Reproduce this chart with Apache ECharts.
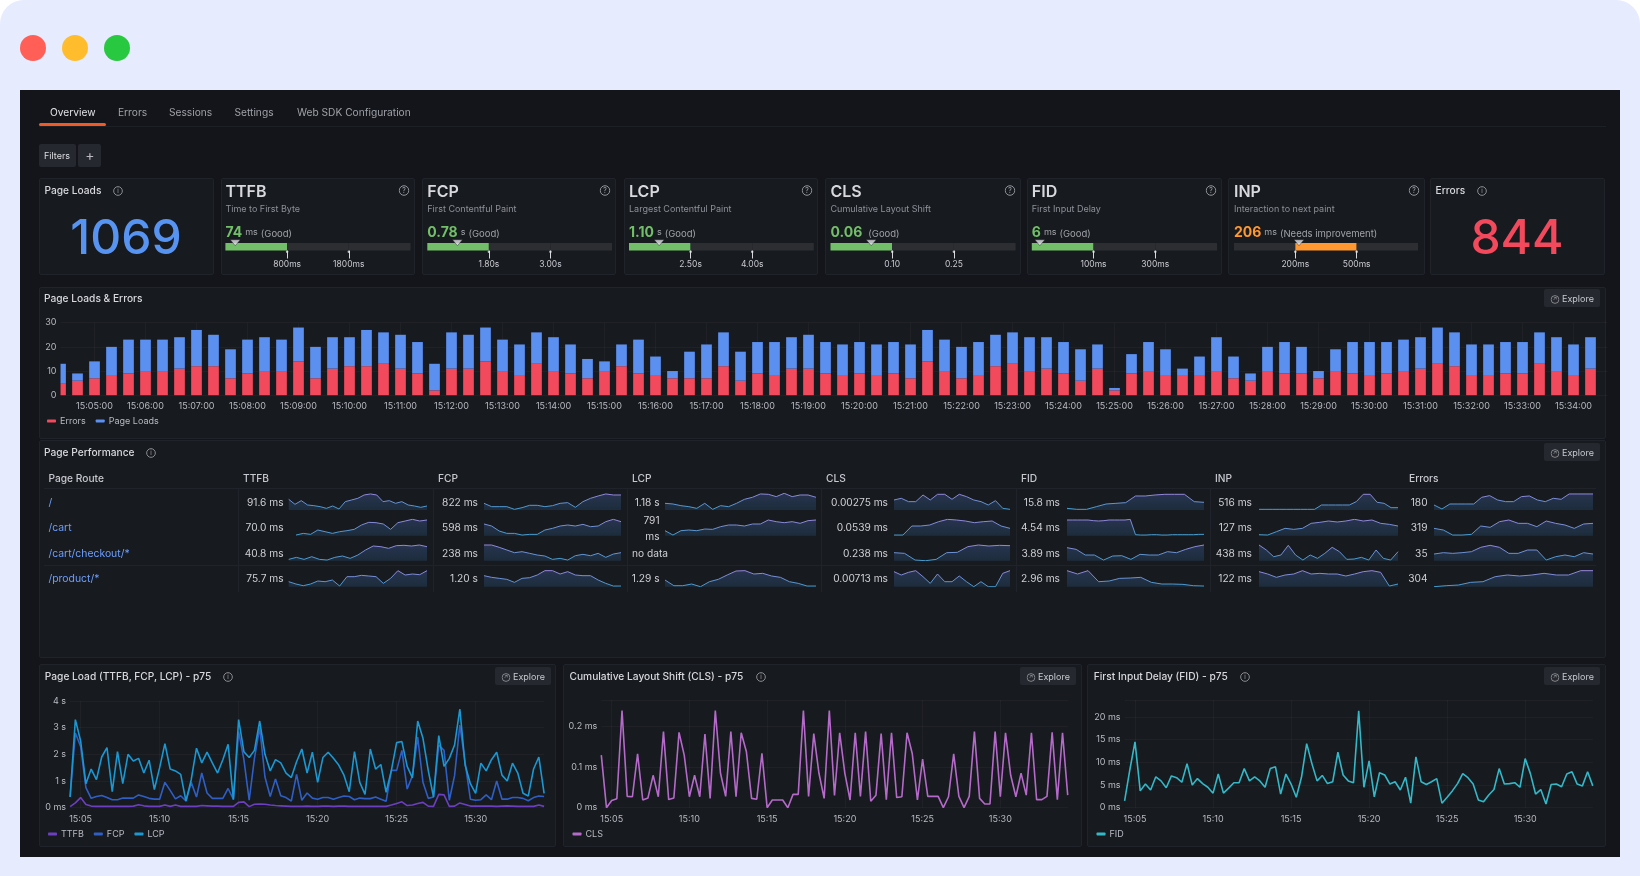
<!DOCTYPE html>
<html>
<head>
<meta charset="utf-8">
<title>Frontend Observability</title>
<script src="https://cdn.jsdelivr.net/npm/echarts@6/dist/echarts.min.js"></script>
<style>
html,body{margin:0;padding:0;background:#fff;font-family:Inter,"Noto Sans",sans-serif;}
#page{position:relative;width:1640px;height:876px;overflow:hidden;background:#e6ebfe;border-radius:24px 24px 0 0;}
#main{position:absolute;left:0;top:0;width:1640px;height:876px;}
.box{position:absolute;box-sizing:border-box;}
.panel{background:#171a1f;border:1px solid #20232a;border-radius:2px;}
.t{position:absolute;white-space:nowrap;transform:translateY(-50%);color:#ccccdc;font-size:10px;}
.t.r{transform:translate(-100%,-50%);}
.t.c{transform:translate(-50%,-50%);}
.title{font-size:10.2px;font-weight:500;color:#d8d9de;}
.sub{font-size:9px;color:#8e9098;}
.big{font-size:16px;font-weight:600;color:#d8d9de;}
.num{font-size:48px;font-weight:500;line-height:50px;}
.val{font-size:14px;font-weight:700;}
.unit{font-size:9px;color:#a0a2a8;font-weight:400;margin:0 3px;}
.rate{font-size:9.5px;color:#a0a2a8;font-weight:400;}
.tab{font-size:10.2px;color:#9fa1a8;}
.route{font-size:10.4px;color:#6e9fff;}
.head{font-size:10.2px;color:#c8c9d0;font-weight:500;}
.cell{font-size:10.2px;color:#cfd0d6;}
.btn{background:#25282e;border-radius:2px;}
.icon{position:absolute;transform:translate(-50%,-50%);}
</style>
</head>
<body>
<div id="page"><div id="main"></div></div>
<script>
// 时间轴
var startTime = new Date(2024, 0, 15, 15, 4, 20).getTime();
var stepMs = 20000;
var lineTickMinutes = [5,10,15,20,25,30];

// Page Loads & Errors
var errorsData = [
    5,6,7,8,9,10,10,11,12,12,
    7,9,10,10,14,7,11,12,12,13,
    11,9,2,11,11,14,10,8,13,10,
    9,7,10,12,9,8,7,7,7,12,
    6,9,8,11,11,9,8,9,8,9,
    7,14,10,7,8,12,13,10,11,9,
    6,11,2,9,10,8,8,8,10,7,
    6,10,9,9,7,10,9,8,9,10,
    11,13,12,8,8,9,9,13,10,8,
    11];
var pageLoadsData = [
    8,3,7,12,14,13,13,13,15,13,
    12,14,14,13,14,13,13,12,15,13,
    14,13,11,15,14,14,13,13,13,14,
    12,8,4,9,14,8,3,11,14,14,
    12,13,14,13,14,13,13,13,13,13,
    14,13,13,13,14,13,13,14,13,13,
    13,10,1,8,12,11,3,8,14,9,
    3,10,13,11,3,9,13,14,13,13,
    13,15,14,13,13,13,13,13,14,13,
    13];

// Page Load (TTFB, FCP, LCP) - p75，单位秒
var ttfbData = [
    .04,.18,.38,.12,.06,.05,.05,.05,.05,.05,
    .05,.05,.06,.11,.07,.05,.05,.05,.1,.05,
    .1,.05,.05,.05,.05,.08,.07,.06,.06,.05,
    .05,.05,.2,.22,.04,.13,.14,.13,.1,.08,
    .07,.06,.05,.05,.05,.06,.05,.05,.06,.06,
    .05,.06,.06,.05,.05,.05,.05,.05,.05,.05,
    .05,.1,.16,.22,.08,.1,.16,.2,.06,.05,
    .5,.48,.05,.06,.18,.12,.06,.06,.06,.06,
    .06,.05,.06,.07,.06,.05,.05,.05,.05,.1,
    .05];
var fcpData = [
    .4,2.8,2.3,.75,.35,.42,.46,.38,.3,.3,
    .36,.36,.36,.48,.42,.35,.32,.32,.95,.65,
    .33,.45,.25,.95,.4,1.3,.55,.35,.35,.35,
    .72,.32,2.85,1.8,.28,1.85,3.0,1.15,.42,1.08,
    .45,.38,.25,1.25,.28,.55,.36,.32,.38,.38,
    .32,.38,.44,.42,.3,.36,.34,.34,.4,.32,
    .24,1.4,1.4,2.15,.7,1.2,2.65,.95,.35,.4,
    2.35,2.15,.28,1.2,3.1,1.7,.32,.28,.3,.48,
    .3,1.0,.32,.32,.38,.38,.35,.26,.38,.44,
    .42];
var lcpData = [
    .4,3.3,2.5,.9,1.45,1.05,1.9,2.25,.6,2.1,
    .9,2.0,1.75,1.85,1.3,1.78,.68,1.5,2.4,1.45,
    1.38,1.25,.25,1.05,2.23,1.68,2.08,1.68,1.3,1.8,
    2.38,.3,3.3,2.1,1.88,2.15,3.25,2.0,1.38,1.8,
    1.68,1.3,1.13,1.72,2.2,1.3,2.08,.95,1.88,2.08,
    1.85,1.6,1.22,.6,2.1,.95,.5,2.2,1.45,1.62,
    .58,1.4,2.44,2.48,1.55,1.12,3.25,2.6,1.4,.4,
    2.7,1.55,1.85,2.35,3.7,1.6,.9,.54,1.67,1.38,
    1.8,2.08,1.22,1.0,1.67,1.3,.54,.44,1.45,1.9,
    .54];

// CLS - p75
var clsData = [
    .13,0,.018,.022,.24,.028,.027,.133,.019,.024,
    .08,.027,.188,.02,.024,.186,.13,.027,.08,.027,
    .182,.023,.24,.085,.028,.188,.027,.185,.138,.023,
    .021,.134,0,.019,.019,.019,0,.033,.033,.24,
    .028,.183,.085,.023,.24,.03,.185,.085,.019,.185,
    .028,.188,.016,.031,.183,.02,.185,.025,.027,.185,
    .134,.019,.12,.028,.028,.028,0,.027,.133,.028,
    0,.028,.188,.023,.009,.009,.188,.027,.185,.08,
    .027,.085,.031,.185,.02,.02,.028,.186,.02,.185,
    .031];

// FID - p75
var fidData = [
    1.5,8.3,14.5,3.7,5.2,3.9,6.8,5.9,4.4,7,
    6.6,5.6,9.7,5,6.4,5.3,4.5,3.2,7.4,3.2,
    4.3,5.5,5.5,8.6,5.9,6.8,5.9,4.5,8.6,9,
    3,7.4,5.2,2.3,6.7,14.1,9.7,5.9,7.1,5.3,
    5.7,12.2,7.2,5.9,5.5,21.3,4.5,10.3,2.4,7.7,
    7.2,5.2,5.7,3.9,6.7,1,11.2,5.7,5.1,5.7,
    6.4,1,2.3,3.7,5.3,7.5,6.6,5.2,1.7,1.3,
    2.8,4,8.6,5.2,5.3,5.5,4.5,10.8,7.5,3,
    4,.8,5.1,5.2,4.6,7.4,7.9,5.2,4.8,7.9,
    4.8];

// Stat 面板
var statNames = ['TTFB','FCP','LCP','CLS','FID','INP'];
var statDescs = ['Time to First Byte','First Contentful Paint','Largest Contentful Paint','Cumulative Layout Shift','First Input Delay','Interaction to next paint'];
var statValues = ['74','0.78','1.10','0.06','6','206'];
var statUnits = ['ms','s','s','','ms','ms'];
var statRatings = ['(Good)','(Good)','(Good)','(Good)','(Good)','(Needs improvement)'];
var statThresholds = [['800ms','1800ms'],['1.80s','3.00s'],['2.50s','4.00s'],['0.10','0.25'],['100ms','300ms'],['200ms','500ms']];
var statMarkers = [0.16,0.49,0.49,0.66,0.13,1.06];
var statZones = [0,0,0,0,0,1];

// 页面性能表
var routes = ['/','/cart','/cart/checkout/*','/product/*'];
var perfHeaders = ['TTFB','FCP','LCP','CLS','FID','INP','Errors'];
var perfTTFB = ['91.6 ms','70.0 ms','40.8 ms','75.7 ms'];
var perfFCP = ['822 ms','598 ms','238 ms','1.20 s'];
var perfLCP = ['1.18 s','','no data','1.29 s'];
var perfCLS = ['0.00275 ms','0.0539 ms','0.238 ms','0.00713 ms'];
var perfFID = ['15.8 ms','4.54 ms','3.89 ms','2.96 ms'];
var perfINP = ['516 ms','127 ms','438 ms','122 ms'];
var perfErrors = ['180','319','35','304'];

// 迷你折线
var sparkTTFB = [
    [32,17,28,15,13,10,5,12,3,25,30,35,45,48,45,25,28,20,25,15,12,8,12],
    [null,2,7,4,17,12,7,12,15,19,32,40,39,35,19,39,44,49,44,47],
    [4,10,4,12,4,2,10,14,7,17,32,44,42,37,45,46,44,47,42],
    [15,8,3,8,17,15,20,2,30,30,34,32,30,10,25,48,35,38,36,48]];
var sparkFCP = [
    [20,10,10,10,2,7,14,14,10,13,20,22,8,25,35,42,48,45,45],
    [35,29,14,7,7,2,4,4,17,22,29,32,29,34,27,29,42,49,42],
    [47,47,40,32,24,27,22,17,14,4,7,2,15,19,15,22,10,20,24],
    [33,28,25,22,13,25,27,35,48,48,38,45,35,33,33,20,10,2,2]];
var sparkLCP = [
    [20,18,13,10,5,20,2,13,10,20,32,38,48,47,40,50,40,45,45,38],
    [15,2,15,17,15,20,19,27,32,32,29,35,35,47,42,39,42,37,45,47],
    [],
    [20,3,3,8,0,15,22,35,47,48,38,40,32,28,15,10,2,2]];
var sparkCLS = [
    [30,35,25,25,45,30,47,47,32,47,40,30,25,15,28,5,2],
    [2,2,29,29,32,42,49,47,44,39,42,44,29,22],
    [24,22,2,0,4,24,25,42,47,44,46,45],
    [45,35,43,48,30,10,38,15,15,32,15,0,15,0,0,40,48]];
var sparkFID = [
    [5,2,2,10,18,20,22,42,42,45,47,47,47,25,23],
    [47,47,47,47,47,45,44,45,47,47,47,47,49,3,2,2,3,3,2,2,3,3,3,3,3,4,4],
    [39,34,17,17,2,14,15,4,19,17,17,27,24,34,42,47],
    [48,38,48,15,17,25,26,28,13,8,8,7,3,2]];
var sparkINP = [
    [2,2,2,2,2,2,2,2,2,15,15,15,15,15,25,47,47,23,20,7,7],
    [3,2,12,22,19,22,37,40,44,41,44,49,44,47,37,34,29],
    [47,32,12,17,46,17,2,17,7,22,40,27,4,5,10,2,32,7,2,27],
    [45,38,28,35,38,48,38,40,38,38,32,38,45,48,43,2,8]];
var sparkErrors = [
    [15,3,18,18,18,18,38,43,30,25,25,40,42,30,25,35,32,48,48,48,48],
    [22,17,2,2,4,29,25,42,47,37,37,27,44,37,32,22,35,37],
    [20,24,22,24,27,40,46,40,22,22,32,32,2,12,17,12,24,20],
    [0,3,5,13,15,30,35,32,35,40,35,35,48,48]];

var COLOR_TEXT = '#b9bac2';
var GRID_LINE = 'rgba(204,204,220,0.045)';

var page = document.getElementById('page');

function box(x, y, w, h, cls) {
    var el = document.createElement('div');
    el.className = 'box ' + cls;
    el.style.cssText = 'left:' + x + 'px;top:' + y + 'px;width:' + w + 'px;height:' + h + 'px;';
    page.insertBefore(el, document.getElementById('main'));
    return el;
}
function text(x, y, str, cls, color) {
    var el = document.createElement('div');
    el.className = 't ' + (cls || '');
    el.style.left = x + 'px';
    el.style.top = y + 'px';
    if (color) el.style.color = color;
    el.innerHTML = str;
    page.appendChild(el);
    return el;
}
function icon(x, y, glyph, size) {
    var el = document.createElement('div');
    el.className = 'icon';
    el.style.left = x + 'px';
    el.style.top = y + 'px';
    el.innerHTML = '<svg width="' + size + '" height="' + size + '" viewBox="0 0 12 12">' +
        '<circle cx="6" cy="6" r="5.2" fill="none" stroke="#a0a2a8" stroke-width="1"/>' +
        '<text x="6" y="8.6" text-anchor="middle" font-size="7.5" fill="#a0a2a8" font-family="Inter">' + glyph + '</text></svg>';
    page.appendChild(el);
}
function explore(x, y) {
    box(x, y, 56, 18, 'btn');
    icon(x + 11, y + 9, '&#8599;', 9);
    text(x + 18, y + 8.5, 'Explore', 'cell', '#c8c9d0').style.fontSize = '9px';
}

// 窗口
box(20, 90, 1600, 767, '').style.background = '#13151a';
[['#ff5f57', 33], ['#ffbd2e', 75], ['#28c840', 117]].forEach(function (d) {
    var b = box(d[1] - 13, 35, 26, 26, '');
    b.style.background = d[0];
    b.style.borderRadius = '50%';
});

// 标签
box(39, 126, 1567, 1, '').style.background = '#1d2025';
var underline = box(39, 123, 67, 3, '');
underline.style.background = '#f05a28';
underline.style.borderRadius = '2px';
text(50, 112, 'Overview', 'tab', '#e0e1e6');
text(118, 112, 'Errors', 'tab');
text(169, 112, 'Sessions', 'tab');
text(234.5, 112, 'Settings', 'tab');
text(297, 112, 'Web SDK Configuration', 'tab');

// 过滤器
box(39, 144, 37, 23, 'btn');
box(78, 144, 23, 23, 'btn');
text(44, 154.5, 'Filters', 'cell', '#dcdde2').style.fontSize = '9px';
text(90, 154, '+', 'c', '#b9bac2').style.fontSize = '14px';

// Stat 面板位置
var statBoxes = [[221, 194], [422, 194], [624, 194], [825, 196], [1027, 195], [1228, 197]];
var gaugeX = [[225.4, 410.5], [427.3, 612], [629, 813.8], [830.5, 1015.6], [1031.8, 1217], [1234, 1418]];

box(39, 178, 175, 97, 'panel');
text(44.5, 190, 'Page Loads', 'title');
icon(118, 190, 'i', 10);
text(126, 237, '1069', 'num c', '#5794f2');

statNames.forEach(function (name, i) {
    var x = statBoxes[i][0], x0 = gaugeX[i][0];
    box(x, 178, statBoxes[i][1], 97, 'panel');
    text(x0, 191, name, 'big');
    text(x0, 208, statDescs[i], 'sub');
    var col = statZones[i] ? '#ff9830' : '#73bf69';
    text(x0, 230.5, '<span class="val" style="color:' + col + '">' + statValues[i] + '</span>' +
        (statUnits[i] ? '<span class="unit" style="position:relative;top:-2px">' + statUnits[i] + '</span>' : '<span class="unit"></span>') +
        '<span class="rate">' + statRatings[i] + '</span>');
    icon(x + statBoxes[i][1] - 11.5, 190, '?', 11);
});

box(1430, 178, 175, 97, 'panel');
text(1435.6, 190, 'Errors', 'title');
icon(1482, 190, 'i', 10);
text(1517, 237, '844', 'num c', '#f2495c');

// Page Loads & Errors 面板
box(39, 287, 1567, 152, 'panel');
text(44, 298, 'Page Loads &amp; Errors', 'title');
explore(1544, 289);

// Page Performance 面板
box(39, 440, 1567, 218, 'panel');
text(44, 452, 'Page Performance', 'title');
icon(151, 452, 'i', 10);
explore(1544, 443);

// 表格线
var perfColX = [238, 433, 627, 821, 1016, 1210, 1404];
box(44, 488, 1552, 1, '').style.background = '#20232a';
box(44, 565, 1552, 1, '').style.background = '#20232a';
perfColX.slice(0, 6).forEach(function (x) {
    box(x, 488, 1, 104, '').style.background = '#20232a';
});

text(48.5, 478, 'Page Route', 'head');
var rowY = [501.7, 527.3, 553, 578.3];
routes.forEach(function (r, i) {
    text(48.5, rowY[i], r, 'route');
});

// 列: 表头x, 数值右边界, 迷你图左右边界
var perfCols = [
    { h: 243, r: 283.6, x0: 288.7, x1: 427, vals: perfTTFB, spark: sparkTTFB },
    { h: 438, r: 478, x0: 484, x1: 621, vals: perfFCP, spark: sparkFCP },
    { h: 632, r: 659.6, x0: 665, x1: 816, vals: perfLCP, spark: sparkLCP },
    { h: 826, r: 888, x0: 894, x1: 1010, vals: perfCLS, spark: sparkCLS },
    { h: 1021, r: 1060, x0: 1067, x1: 1204, vals: perfFID, spark: sparkFID },
    { h: 1215, r: 1252, x0: 1259, x1: 1398, vals: perfINP, spark: sparkINP },
    { h: 1409, r: 1427.6, x0: 1434, x1: 1593, vals: perfErrors, spark: sparkErrors }
];
perfCols.forEach(function (c, ci) {
    text(c.h, 478, perfHeaders[ci], 'head');
    c.vals.forEach(function (v, i) {
        if (v === 'no data') text(c.h, rowY[i], v, 'cell');
        else if (v) text(c.r, rowY[i], v, 'cell r');
    });
});
text(659.6, 520, '791', 'cell r');
text(659.6, 535.6, 'ms', 'cell r');

// 底部面板
box(39, 664, 517, 183, 'panel');
box(563, 664, 519, 183, 'panel');
box(1087, 664, 519, 183, 'panel');
text(44.8, 676, 'Page Load (TTFB, FCP, LCP) - p75', 'title');
icon(227.7, 676, 'i', 10);
explore(495, 667);
text(569.5, 676, 'Cumulative Layout Shift (CLS) - p75', 'title');
icon(761, 676, 'i', 10);
explore(1020, 667);
text(1093.8, 676, 'First Input Delay (FID) - p75', 'title');
icon(1245, 676, 'i', 10);
explore(1544, 667);

// 图表
function timed(values) {
    return values.map(function (v, i) {
        return [startTime + i * stepMs, v];
    });
}
function tickTimes(minutes) {
    return minutes.map(function (m) {
        return new Date(2024, 0, 15, 15, m, 0).getTime();
    });
}
// 柱状图的类目：每20秒一根，最后多留一格
var barTimes = [];
for (var bi = 0; bi <= errorsData.length; bi++) {
    barTimes.push(echarts.time.format(startTime + bi * stepMs, '{HH}:{mm}:{ss}', false));
}
function isMinute(index, value) {
    return /:00$/.test(value);
}
// 折线图每5分钟一个刻度
function lineTimeAxis(gridIndex, minMs, maxMs, minutes) {
    var ticks = tickTimes(minutes);
    return {
        type: 'value',
        gridIndex: gridIndex,
        min: minMs,
        max: maxMs,
        axisLine: { show: false },
        axisTick: { show: false, customValues: ticks },
        splitLine: { show: true, lineStyle: { color: GRID_LINE } },
        axisLabel: {
            customValues: ticks, color: COLOR_TEXT, fontSize: 9, fontFamily: 'Inter', margin: 7, hideOverlap: false,
            formatter: function (v) { return echarts.time.format(v, '{HH}:{mm}', false); }
        }
    };
}
function valueAxis(gridIndex, max, interval, fmt, showMax) {
    return {
        type: 'value',
        gridIndex: gridIndex,
        min: 0,
        max: max,
        interval: interval,
        axisLine: { show: false },
        axisTick: { show: false },
        splitLine: { lineStyle: { color: GRID_LINE } },
        axisLabel: { color: COLOR_TEXT, fontSize: 9, fontFamily: 'Inter', margin: 4, formatter: fmt, showMaxLabel: showMax }
    };
}
function lineSeries(name, gridIndex, values, color) {
    return {
        name: name,
        type: 'line',
        xAxisIndex: gridIndex,
        yAxisIndex: gridIndex,
        data: timed(values),
        showSymbol: false,
        animation: false,
        lineStyle: { color: color, width: 1.6 },
        itemStyle: { color: color }
    };
}
function legend(x, y, names) {
    return {
        left: x,
        top: y,
        data: names,
        icon: 'roundRect',
        itemWidth: 9,
        itemHeight: 3,
        itemGap: 10,
        textStyle: { color: COLOR_TEXT, fontSize: 9, fontFamily: 'Inter', padding: [0, 0, 0, -1] },
        padding: 0,
        selectedMode: false
    };
}

var grids = [], xAxes = [], yAxes = [], series = [];
function addGrid(x0, y0, x1, y1) {
    grids.push({ left: x0, top: y0, width: x1 - x0, height: y1 - y0 });
    return grids.length - 1;
}

// 柱状图：第一根柱子只露出右半边，单独放一个窄柱的 grid
var g0 = addGrid(60.5, 322.7, 1607.5, 395.2);
xAxes.push({
    type: 'category',
    gridIndex: g0,
    boundaryGap: false,
    data: barTimes,
    axisLine: { show: false },
    axisTick: { show: false },
    splitLine: { show: true, interval: isMinute, lineStyle: { color: GRID_LINE } },
    axisLabel: { interval: isMinute, color: COLOR_TEXT, fontSize: 9, fontFamily: 'Inter', margin: 7 }
});
yAxes.push(valueAxis(g0, 30, 10, undefined, true));
series.push({
    name: 'Errors', type: 'bar', stack: 'loads', xAxisIndex: g0, yAxisIndex: g0, barWidth: 10.7, animation: false,
    data: ['-'].concat(errorsData.slice(1)), itemStyle: { color: '#f2495c' }
}, {
    name: 'Page Loads', type: 'bar', stack: 'loads', xAxisIndex: g0, yAxisIndex: g0, barWidth: 10.7, animation: false,
    data: ['-'].concat(pageLoadsData.slice(1)), itemStyle: { color: '#5b8ff0' }
});
var g0b = addGrid(63.2, 322.7, 1607.5, 395.2);
xAxes.push({ type: 'category', gridIndex: g0b, show: false, boundaryGap: false, data: barTimes.slice(0, 2) });
yAxes.push({ type: 'value', gridIndex: g0b, show: false, min: 0, max: 30 });
series.push({
    name: 'Errors first', type: 'bar', stack: 'first', xAxisIndex: g0b, yAxisIndex: g0b, barWidth: 5.35, animation: false,
    data: errorsData.slice(0, 1), itemStyle: { color: '#f2495c' }
}, {
    name: 'Page Loads first', type: 'bar', stack: 'first', xAxisIndex: g0b, yAxisIndex: g0b, barWidth: 5.35, animation: false,
    data: pageLoadsData.slice(0, 1), itemStyle: { color: '#5b8ff0' }
});

// 三个折线图
var g1 = addGrid(70.1, 701, 544.1, 807.7);
xAxes.push(lineTimeAxis(g1, startTime, startTime + 90 * stepMs, lineTickMinutes));
yAxes.push(valueAxis(g1, 4, 1, function (v) { return v === 0 ? '0 ms' : v + ' s'; }, true));
series.push(lineSeries('TTFB', g1, ttfbData, '#6b3fc0'));
series.push(lineSeries('FCP', g1, fcpData, '#2f5fc4'));
series.push(lineSeries('LCP', g1, lcpData, '#1b98d2'));

var g2 = addGrid(601.3, 700, 1067.7, 807.7);
xAxes.push(lineTimeAxis(g2, startTime, startTime + 90 * stepMs, lineTickMinutes));
yAxes.push(valueAxis(g2, 0.266, 0.1, function (v) { return v === 0 ? '0 ms' : v + ' ms'; }, false));
series.push(lineSeries('CLS', g2, clsData, '#b56ac9'));

var g3 = addGrid(1124.6, 700, 1592.8, 807.7);
xAxes.push(lineTimeAxis(g3, startTime, startTime + 90 * stepMs, lineTickMinutes));
yAxes.push(valueAxis(g3, 23.7, 5, function (v) { return v + ' ms'; }, false));
series.push(lineSeries('FID', g3, fidData, '#33b8c8'));

// Stat 面板的量表
var zoneNames = ['zone0', 'zone1', 'zone2'];
statNames.forEach(function (name, i) {
    var g = addGrid(gaugeX[i][0], 243, gaugeX[i][1], 250.5);
    xAxes.push({
        type: 'value', gridIndex: g, min: 0, max: 3,
        axisLine: { show: false },
        splitLine: { show: false },
        axisTick: { show: true, customValues: [1, 2], length: 8, lineStyle: { color: '#d8d9de', width: 1 } },
        axisLabel: {
            customValues: [1, 2], color: '#c8c9d0', fontSize: 8.5, fontFamily: 'Inter', margin: 9,
            formatter: function (v) { return statThresholds[i][v - 1]; }
        }
    });
    yAxes.push({ type: 'category', gridIndex: g, data: [name], show: false });
    zoneNames.forEach(function (z, zi) {
        series.push({
            name: name + z, type: 'bar', stack: name, xAxisIndex: g, yAxisIndex: g, barWidth: '100%', animation: false,
            data: [1],
            itemStyle: { color: zi === statZones[i] ? (statZones[i] ? '#ff9830' : '#73bf69') : '#2c2e32' }
        });
    });
    series.push({
        name: name + 'head', type: 'scatter', xAxisIndex: g, yAxisIndex: g, clip: false, animation: false,
        symbol: 'circle', symbolSize: 2.5, symbolOffset: [0, 5],
        data: [[1, name], [2, name]],
        itemStyle: { color: '#e4e5ea' }
    });
    series.push({
        name: name + 'marker', type: 'scatter', xAxisIndex: g, yAxisIndex: g, clip: false, animation: false,
        symbol: 'triangle', symbolRotate: 180, symbolSize: [10, 6], symbolOffset: [0, -4],
        data: [[statMarkers[i], name]],
        itemStyle: { color: '#e4e5ea', borderColor: '#181b1f', borderWidth: 0.5 }
    });
});

// 表格的迷你图
var sparkBase = [510, 535.7, 560.7, 586.7];
var sparkGradient = function (a, b) {
    return new echarts.graphic.LinearGradient(0, 0, 0, 1, [{ offset: 0, color: a }, { offset: 1, color: b }]);
};
perfCols.forEach(function (c, ci) {
    c.spark.forEach(function (values, r) {
        if (!values.length) return;
        var g = addGrid(c.x0, sparkBase[r] - 16.7, c.x1, sparkBase[r]);
        xAxes.push({ type: 'category', gridIndex: g, show: false, boundaryGap: false, data: values.map(function (v, i) { return i; }) });
        yAxes.push({ type: 'value', gridIndex: g, show: false, min: 0, max: 50 });
        series.push({
            name: perfHeaders[ci] + r, type: 'line', xAxisIndex: g, yAxisIndex: g, showSymbol: false, animation: false,
            data: values,
            lineStyle: { width: 1, color: sparkGradient('#a083dc', '#36a0cc') },
            areaStyle: { color: sparkGradient('rgba(76,100,170,0.5)', 'rgba(50,110,160,0.32)') }
        });
    });
});

var option = {
    backgroundColor: 'transparent',
    legend: [
        legend(47, 416.5, ['Errors', 'Page Loads']),
        legend(48, 829.5, ['TTFB', 'FCP', 'LCP']),
        legend(572.5, 829.5, ['CLS']),
        legend(1096.5, 829.5, ['FID'])
    ],
    grid: grids,
    xAxis: xAxes,
    yAxis: yAxes,
    series: series
};

// 渲染图表
function drawCharts(id, option) {
    var mychart = echarts.init(document.getElementById(id));
    mychart.setOption(option);
}
drawCharts('main', option);
</script>
</body>
</html>
